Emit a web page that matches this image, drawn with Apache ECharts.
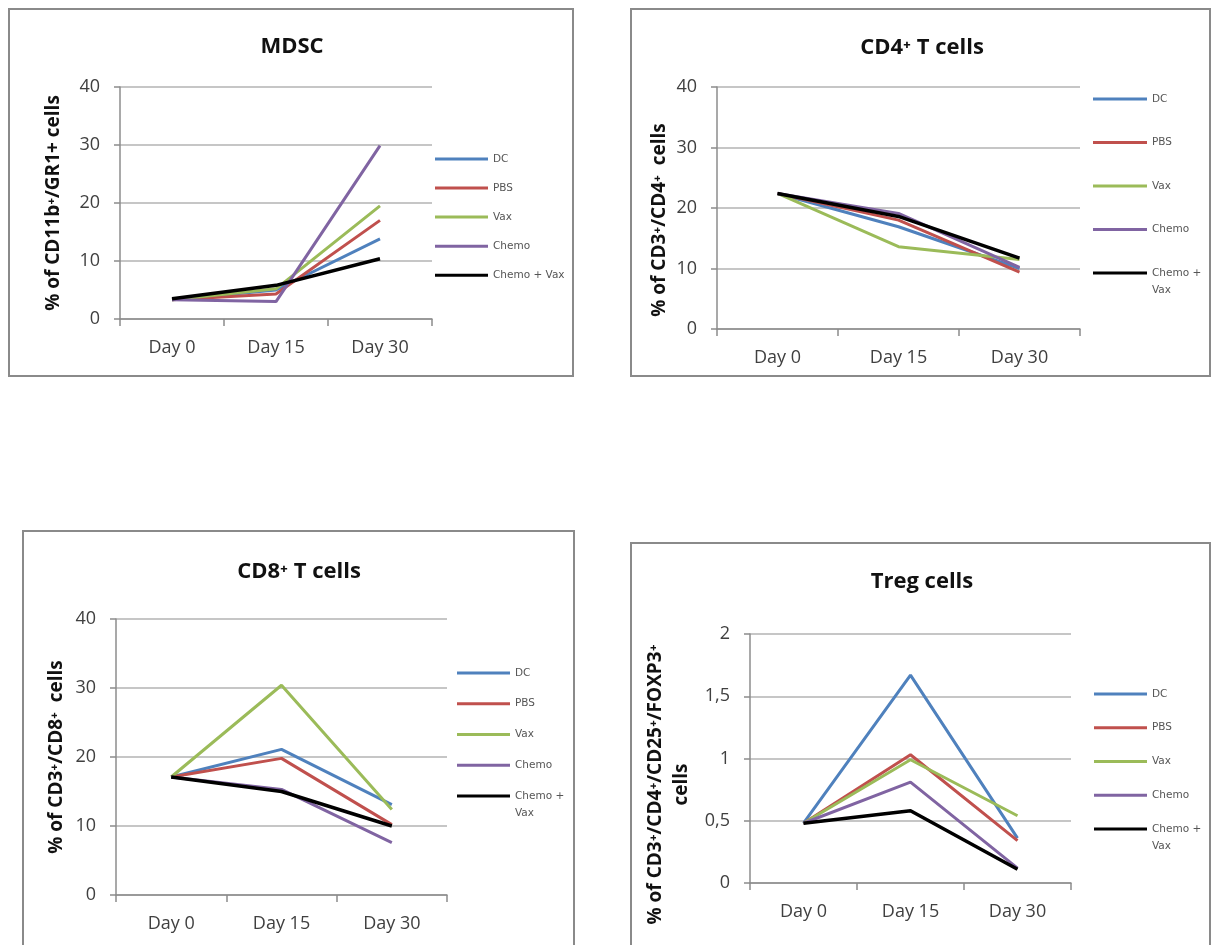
<!DOCTYPE html>
<html><head><meta charset="utf-8">
<script src="https://cdn.jsdelivr.net/npm/echarts@6/dist/echarts.min.js"></script>
<style>html,body{margin:0;padding:0;background:#fff}#c{width:1212px;height:945px}</style>
</head><body><div id="c"></div>
<script>
// ---- data ----
const categories = ['Day 0', 'Day 15', 'Day 30'];
const groups = ['DC', 'PBS', 'Vax', 'Chemo', 'Chemo + Vax'];

const mdscDC = [3.3, 5.0, 13.8];
const mdscPBS = [3.3, 4.3, 17.0];
const mdscVax = [3.3, 5.2, 19.5];
const mdscChemo = [3.3, 3.0, 29.9];
const mdscChemoVax = [3.5, 5.8, 10.4];

const cd4DC = [22.4, 16.9, 10.0];
const cd4PBS = [22.4, 18.0, 9.4];
const cd4Vax = [22.4, 13.6, 11.5];
const cd4Chemo = [22.4, 19.1, 10.2];
const cd4ChemoVax = [22.4, 18.6, 11.7];

const cd8DC = [17.1, 21.1, 13.1];
const cd8PBS = [17.1, 19.8, 10.2];
const cd8Vax = [17.1, 30.4, 12.4];
const cd8Chemo = [17.1, 15.3, 7.6];
const cd8ChemoVax = [17.1, 15.0, 10.0];

const tregDC = [0.48, 1.67, 0.36];
const tregPBS = [0.48, 1.03, 0.34];
const tregVax = [0.48, 0.99, 0.54];
const tregChemo = [0.48, 0.81, 0.12];
const tregChemoVax = [0.48, 0.58, 0.11];

const yTicks1 = [0, 10, 20, 30, 40];
const yTicks2 = [0, 0.5, 1, 1.5, 2];

const titles = ['MDSC', 'CD4\u207A T cells', 'CD8\u207A T cells', 'Treg cells'];
const yNames = [
  '% of CD11b\u207A/GR1+ cells',
  '% of CD3\u207A/CD4\u207A  cells',
  '% of CD3\u207A/CD8\u207A  cells',
  '% of CD3\u207A/CD4\u207A/CD25\u207A/FOXP3\u207A\ncells'
];

// ---- styling / layout ----
const colors = ['#4F81BD', '#C0504D', '#9BBB59', '#8064A2', '#000000'];
const widths = [3, 3, 3, 3, 3.5];
const panelData = [
  [mdscDC, mdscPBS, mdscVax, mdscChemo, mdscChemoVax],
  [cd4DC, cd4PBS, cd4Vax, cd4Chemo, cd4ChemoVax],
  [cd8DC, cd8PBS, cd8Vax, cd8Chemo, cd8ChemoVax],
  [tregDC, tregPBS, tregVax, tregChemo, tregChemoVax]
];
const panelTicks = [yTicks1, yTicks1, yTicks1, yTicks2];
const layout = [
  { box: [9, 9, 573, 376], grid: [120, 87, 432, 319], title: [292, 47], nameGap: 53, namePad: 0,
    leg: { x: 435, y: 159, w: 53, sp: 29.3 }, wrap: false },
  { box: [631, 9, 1210, 376], grid: [717, 87, 1080, 329], title: [922, 48], nameGap: 44, namePad: 24,
    leg: { x: 1093, y: 99, w: 54, sp: 43.7 }, wrap: true },
  { box: [23, 531, 574, 950], grid: [116, 619, 447, 895], title: [299, 572], nameGap: 46, namePad: 0,
    leg: { x: 457, y: 673, w: 53, sp: 31 }, wrap: true },
  { box: [631, 543, 1210, 950], grid: [750, 634, 1071, 883], title: [922, 582], nameGap: 55, namePad: 52,
    leg: { x: 1094, y: 694, w: 53, sp: 34 }, wrap: true }
];

const FONT = "'Open Sans', 'DejaVu Sans', sans-serif";
const LFONT = "'DejaVu Sans', sans-serif";
const ITEM_H = 11.2;

const grids = [], xAxes = [], yAxes = [], series = [], legends = [], graphics = [];
layout.forEach((L, p) => {
  const [gl, gt, gr, gb] = L.grid;
  grids.push({ left: gl, top: gt, width: gr - gl, height: gb - gt });
  const ticks = panelTicks[p];
  xAxes.push({
    gridIndex: p, type: 'category', data: categories, boundaryGap: true,
    axisLine: { show: true, lineStyle: { color: '#8c8c8c', width: 1.5 } },
    axisTick: { show: true, length: 7, alignWithLabel: false, lineStyle: { color: '#8c8c8c', width: 1.5 } },
    axisLabel: { margin: 20, fontSize: 18, fontFamily: FONT, color: '#404040' },
    splitLine: { show: false }
  });
  yAxes.push({
    gridIndex: p, type: 'value', min: ticks[0], max: ticks[ticks.length - 1],
    interval: ticks[1] - ticks[0],
    name: yNames[p], nameLocation: 'middle', nameGap: L.nameGap,
    nameTextStyle: { fontFamily: FONT, fontWeight: 'bold', fontSize: 19, color: '#111',
      lineHeight: 26, padding: [0, L.namePad, 0, 0] },
    axisLine: { show: true, lineStyle: { color: '#8c8c8c', width: 1.5 } },
    axisTick: { show: true, length: 6, lineStyle: { color: '#8c8c8c', width: 1.5 } },
    axisLabel: { margin: 20, fontSize: 18, fontFamily: FONT, color: '#404040',
      formatter: v => String(v).replace('.', ',') },
    splitLine: { show: true, lineStyle: { color: '#b3b3b3', width: 1.5 } }
  });
  panelData[p].forEach((vals, i) => {
    series.push({
      type: 'line', name: groups[i], xAxisIndex: p, yAxisIndex: p, data: vals,
      symbol: 'none', color: colors[i],
      lineStyle: { color: colors[i], width: widths[i] }, z: 2 + i
    });
  });
  legends.push({
    orient: 'vertical', left: L.leg.x, top: L.leg.y - ITEM_H / 2, padding: 0,
    itemWidth: L.leg.w, itemHeight: 3, itemGap: L.leg.sp - ITEM_H, icon: 'rect',
    data: groups.map(g => ({ name: g })),
    selectedMode: false,
    textStyle: { fontFamily: LFONT, fontSize: 10.5, color: '#555', lineHeight: 10 },
    formatter: L.wrap ? (n => n === 'Chemo + Vax' ? 'Chemo +' : n) : undefined
  });
  if (L.wrap) {
    graphics.push({ type: 'text', x: L.leg.x + L.leg.w + 5, y: L.leg.y + 4 * L.leg.sp + 16,
      style: { text: 'Vax', font: "10.5px 'DejaVu Sans', sans-serif", fill: '#555',
        textAlign: 'left', textVerticalAlign: 'middle' }, z: 10 });
  }
  const [bx0, by0, bx1, by1] = L.box;
  graphics.push({ type: 'rect', shape: { x: bx0, y: by0, width: bx1 - bx0, height: by1 - by0 },
    style: { fill: 'none', stroke: '#8a8a8a', lineWidth: 2 }, z: 0 });
  graphics.push({ type: 'text', x: L.title[0], y: L.title[1],
    style: { text: titles[p], font: "bold 22px 'Open Sans', 'DejaVu Sans', sans-serif", fill: '#111',
      textAlign: 'center', textVerticalAlign: 'middle' }, z: 10 });
});

const chart = echarts.init(document.getElementById('c'), null, { renderer: 'canvas' });
chart.setOption({
  backgroundColor: '#ffffff', animation: false,
  grid: grids, xAxis: xAxes, yAxis: yAxes, series: series, legend: legends,
  graphic: graphics
});
</script></body></html>
